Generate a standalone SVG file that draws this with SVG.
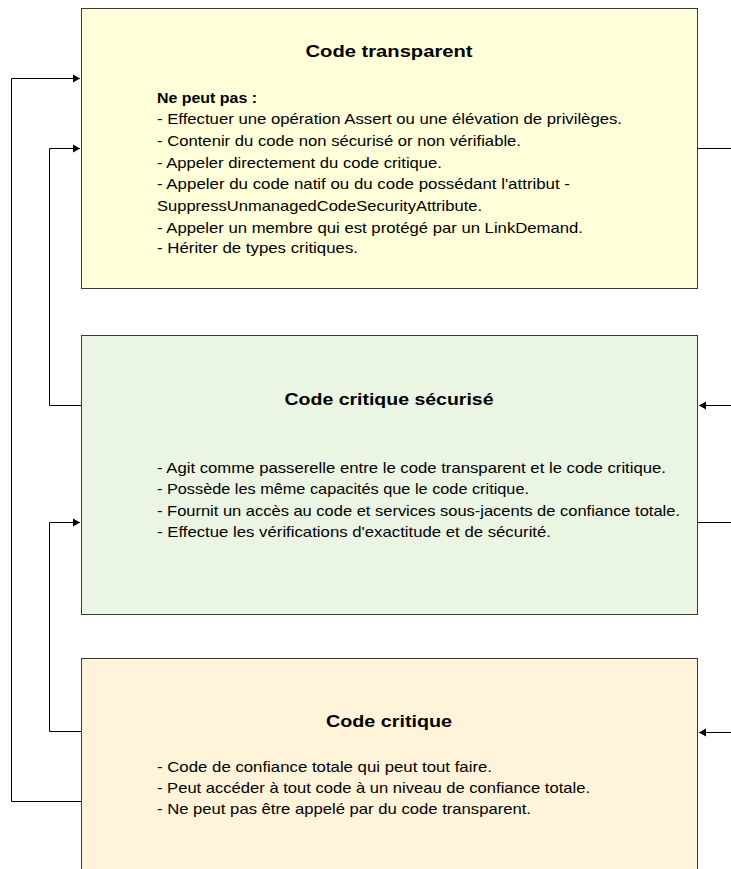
<svg xmlns="http://www.w3.org/2000/svg" width="731" height="869" viewBox="0 0 731 869">
<style>
.box{stroke:#3a3a3a;stroke-width:1}
.t{font-family:"Liberation Sans",Arial,sans-serif;font-size:15px;fill:#000}
.h{font-family:"Liberation Sans",Arial,sans-serif;font-size:17px;font-weight:bold;fill:#000;text-anchor:middle}
.b{font-weight:bold}
.c{fill:none;stroke:#000;stroke-width:1}
</style>
<defs>
<marker id="arr" markerWidth="8" markerHeight="10" refX="7" refY="5" orient="auto" markerUnits="userSpaceOnUse">
<path d="M0,1 L7,5 L0,9 Z" fill="#000"/>
</marker>
</defs>
<rect width="731" height="869" fill="#fff"/>
<g id="connectors">
<polyline class="c" points="81,405.5 49.5,405.5 49.5,148.5 80,148.5" marker-end="url(#arr)"/>
<polyline class="c" points="81,731.5 49.5,731.5 49.5,522.5 80,522.5" marker-end="url(#arr)"/>
<polyline class="c" points="81,801.5 11.5,801.5 11.5,78.5 80,78.5" marker-end="url(#arr)"/>
<line class="c" x1="698" y1="148.5" x2="731" y2="148.5"/>
<line class="c" x1="731" y1="405.5" x2="699" y2="405.5" marker-end="url(#arr)"/>
<line class="c" x1="698" y1="522.5" x2="731" y2="522.5"/>
<line class="c" x1="731" y1="732.5" x2="699" y2="732.5" marker-end="url(#arr)"/>
</g>
<g id="transparent">
<rect class="box" x="81.5" y="8.5" width="616" height="280" fill="#FFFFD9"/>
<text class="h" x="389" y="57" textLength="167" lengthAdjust="spacingAndGlyphs">Code transparent</text>
<text class="t b" x="157" y="103" textLength="100" lengthAdjust="spacingAndGlyphs">Ne peut pas :</text>
<text class="t" x="157" y="124" textLength="465" lengthAdjust="spacingAndGlyphs">- Effectuer une opération Assert ou une élévation de privilèges.</text>
<text class="t" x="157" y="146" textLength="364" lengthAdjust="spacingAndGlyphs">- Contenir du code non sécurisé or non vérifiable.</text>
<text class="t" x="157" y="168" textLength="285" lengthAdjust="spacingAndGlyphs">- Appeler directement du code critique.</text>
<text class="t" x="157" y="189" textLength="413" lengthAdjust="spacingAndGlyphs">- Appeler du code natif ou du code possédant l'attribut -</text>
<text class="t" x="157" y="211" textLength="325" lengthAdjust="spacingAndGlyphs">SuppressUnmanagedCodeSecurityAttribute.</text>
<text class="t" x="157" y="233" textLength="426" lengthAdjust="spacingAndGlyphs">- Appeler un membre qui est protégé par un LinkDemand.</text>
<text class="t" x="157" y="253" textLength="201" lengthAdjust="spacingAndGlyphs">- Hériter de types critiques.</text>
</g>
<g id="critique-securise">
<rect class="box" x="81.5" y="335.5" width="616" height="279" fill="#EBF5E3"/>
<text class="h" x="389" y="405" textLength="209" lengthAdjust="spacingAndGlyphs">Code critique sécurisé</text>
<text class="t" x="157" y="473" textLength="509" lengthAdjust="spacingAndGlyphs">- Agit comme passerelle entre le code transparent et le code critique.</text>
<text class="t" x="157" y="494" textLength="372" lengthAdjust="spacingAndGlyphs">- Possède les même capacités que le code critique.</text>
<text class="t" x="157" y="516" textLength="523" lengthAdjust="spacingAndGlyphs">- Fournit un accès  au code et services sous-jacents de confiance totale.</text>
<text class="t" x="157" y="537" textLength="394" lengthAdjust="spacingAndGlyphs">- Effectue les vérifications d'exactitude et de sécurité.</text>
</g>
<g id="critique">
<rect class="box" x="81.5" y="658.5" width="616" height="230" fill="#FFF3D9"/>
<text class="h" x="389" y="727" textLength="126" lengthAdjust="spacingAndGlyphs">Code critique</text>
<text class="t" x="157" y="772" textLength="335" lengthAdjust="spacingAndGlyphs">- Code de confiance totale qui peut tout faire.</text>
<text class="t" x="157" y="793" textLength="433" lengthAdjust="spacingAndGlyphs">- Peut accéder à tout code à un niveau de confiance totale.</text>
<text class="t" x="157" y="814" textLength="374" lengthAdjust="spacingAndGlyphs">- Ne peut pas être appelé par du code transparent.</text>
</g>
</svg>
